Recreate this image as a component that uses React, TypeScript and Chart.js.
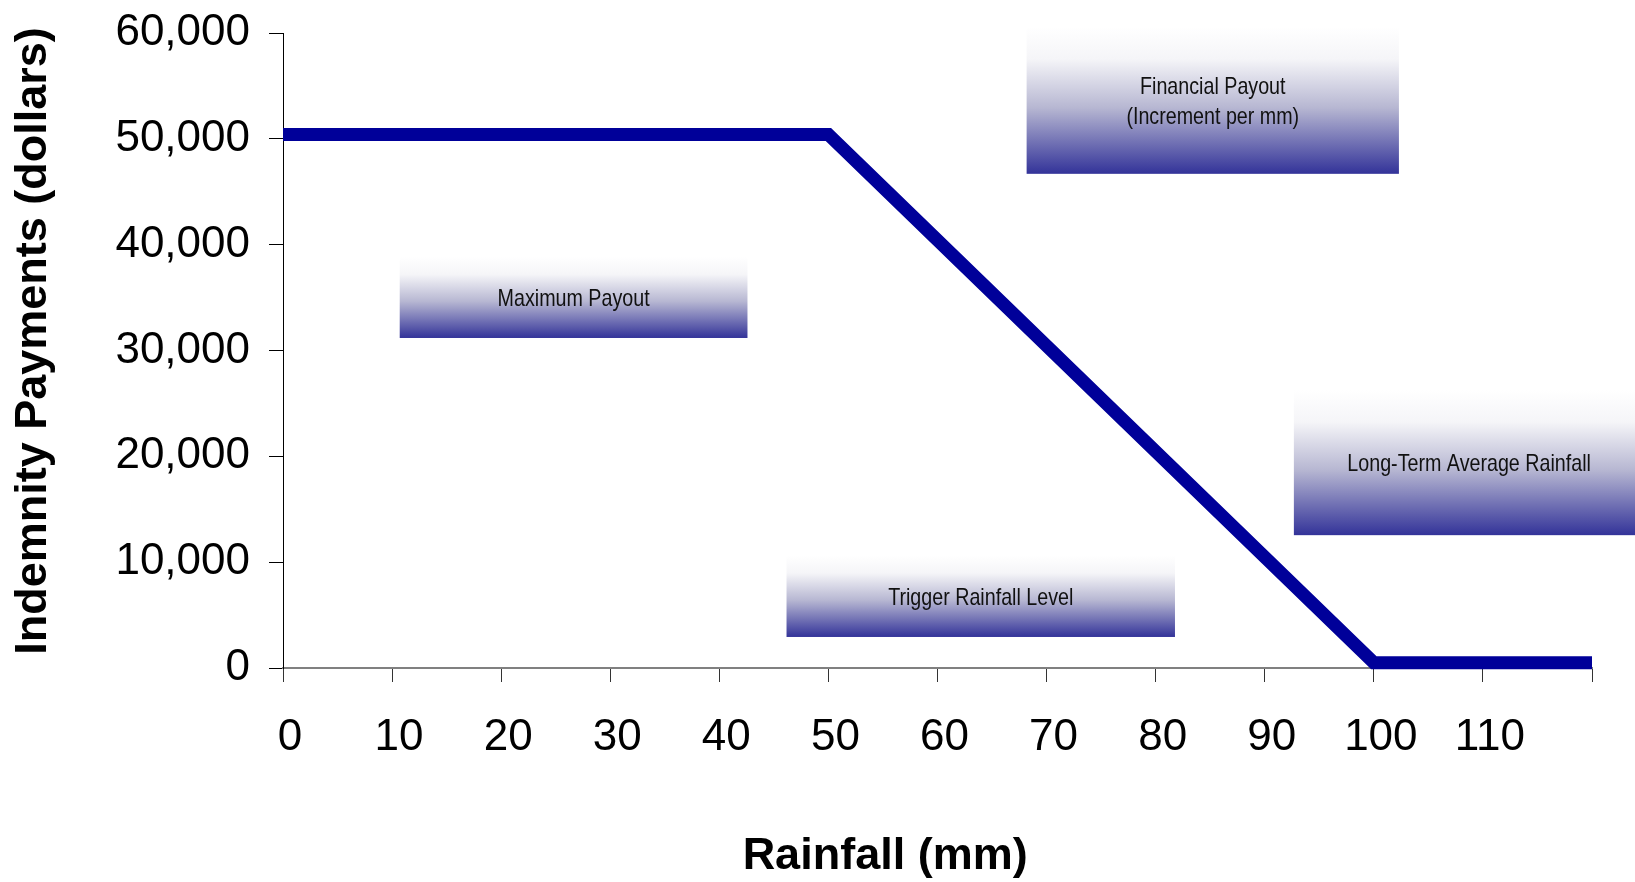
import React, { useEffect, useRef } from "react";
import { Chart, registerables } from "chart.js";

Chart.register(...registerables);

// Payout schedule: flat maximum, linear decline per mm, then zero
const rainfallMm = [0, 50, 100, 120];
const payoutDollars = [50400, 50400, 500, 500];

const xTickMax = 120;
const yTickMax = 60000;

const xTitle = "Rainfall (mm)";
const yTitle = "Indemnity Payments (dollars)";

// Text callouts placed in data units (rainfall mm, dollars)
const calloutLabels = [
  ["Maximum Payout"],
  ["Financial Payout", "(Increment per mm)"],
  ["Long-Term Average Rainfall"],
  ["Trigger Rainfall Level"],
];
const calloutXFrom = [10.7, 68.17, 92.67, 46.16];
const calloutXTo = [42.58, 102.3, 124.8, 81.77];
const calloutYFrom = [31183, 46694, 12551, 2932];
const calloutYTo = [38873, 60597, 26265, 10659];

const FONT = "'Liberation Sans', Arial, sans-serif";

const calloutPlugin = {
  id: "callouts",
  afterDatasetsDraw(chart: any) {
    const { ctx, scales } = chart;
    const xs = scales.x;
    const ys = scales.y;
    ctx.save();
    calloutLabels.forEach((lines, i) => {
      const left = xs.getPixelForValue(calloutXFrom[i]);
      const right = xs.getPixelForValue(calloutXTo[i]);
      const top = ys.getPixelForValue(calloutYTo[i]);
      const bottom = ys.getPixelForValue(calloutYFrom[i]);
      const g = ctx.createLinearGradient(0, top, 0, bottom);
      g.addColorStop(0, "#ffffff");
      g.addColorStop(0.22, "#f5f5f8");
      g.addColorStop(0.55, "#b7b7d2");
      g.addColorStop(1, "#333399");
      ctx.fillStyle = g;
      ctx.fillRect(left, top, right - left, bottom - top);

      // narrow face: regular sans squeezed horizontally
      ctx.fillStyle = "#111111";
      ctx.font = `24px ${FONT}`;
      ctx.textAlign = "center";
      ctx.textBaseline = "middle";
      const cx = (left + right) / 2;
      const cy = (top + bottom) / 2 + 2;
      const lh = 30;
      lines.forEach((t, k) => {
        ctx.save();
        ctx.translate(cx, cy + (k - (lines.length - 1) / 2) * lh);
        ctx.scale(0.82, 1);
        ctx.fillText(t, 0, 0);
        ctx.restore();
      });
    });

    // axis titles
    const area = chart.chartArea;
    ctx.fillStyle = "#000000";
    ctx.font = `bold 45px ${FONT}`;
    ctx.textAlign = "center";
    ctx.textBaseline = "middle";
    ctx.fillText(xTitle, area.left + (area.right - area.left) * 0.46, chart.height - 25);
    ctx.save();
    ctx.translate(34, area.top + (area.bottom - area.top) * 0.485);
    ctx.rotate(-Math.PI / 2);
    ctx.fillText(yTitle, 0, 0);
    ctx.restore();
    ctx.restore();
  },
};

export default function App() {
  const canvasRef = useRef<HTMLCanvasElement | null>(null);

  useEffect(() => {
    if (!canvasRef.current) return;
    const points = rainfallMm.map((x, i) => ({ x, y: payoutDollars[i] }));
    const chart = new Chart(canvasRef.current, {
      type: "line",
      data: {
        datasets: [
          {
            data: points,
            borderColor: "#000099",
            backgroundColor: "#000099",
            borderWidth: 13,
            pointRadius: 0,
            tension: 0,
            borderCapStyle: "butt",
            borderJoinStyle: "miter",
            clip: false as any,
          },
        ],
      },
      options: {
        animation: false,
        responsive: true,
        maintainAspectRatio: false,
        layout: { padding: { left: 0, top: 33, right: 43, bottom: 0 } },
        plugins: {
          legend: { display: false },
          tooltip: { enabled: false },
        },
        scales: {
          x: {
            type: "linear",
            min: 0,
            max: xTickMax,
            afterFit: (s: any) => {
              s.height = 214;
              s.paddingLeft = 0;
              s.paddingRight = 0;
            },
            grid: {
              drawOnChartArea: false,
              drawTicks: true,
              tickLength: 14,
              color: "#333333",
              lineWidth: 1,
            },
            border: { display: true, color: "#808080", width: 2 },
            ticks: {
              stepSize: 10,
              autoSkip: false,
              maxRotation: 0,
              padding: 29,
              labelOffset: 7,
              color: "#000000",
              font: { family: FONT, size: 44 },
              callback: (v: any) => (v === xTickMax ? "" : String(v)),
            },
            title: { display: false },
          },
          y: {
            type: "linear",
            min: 0,
            max: yTickMax,
            afterFit: (s: any) => {
              s.width = 283;
              s.paddingTop = 0;
              s.paddingBottom = 0;
            },
            grid: {
              drawOnChartArea: false,
              drawTicks: true,
              tickLength: 14,
              color: "#000000",
              lineWidth: 1,
            },
            border: { display: true, color: "#000000", width: 1 },
            ticks: {
              stepSize: 10000,
              padding: 19,
              color: "#000000",
              font: { family: FONT, size: 44 },
              callback: (v: any) => Number(v).toLocaleString("en-US"),
            },
            title: { display: false },
          },
        },
      },
      plugins: [calloutPlugin],
    });
    return () => chart.destroy();
  }, []);

  return (
    <div
      style={{
        position: "fixed",
        left: 0,
        top: 0,
        width: 1635,
        height: 882,
        background: "#ffffff",
      }}
    >
      <canvas ref={canvasRef} />
    </div>
  );
}
